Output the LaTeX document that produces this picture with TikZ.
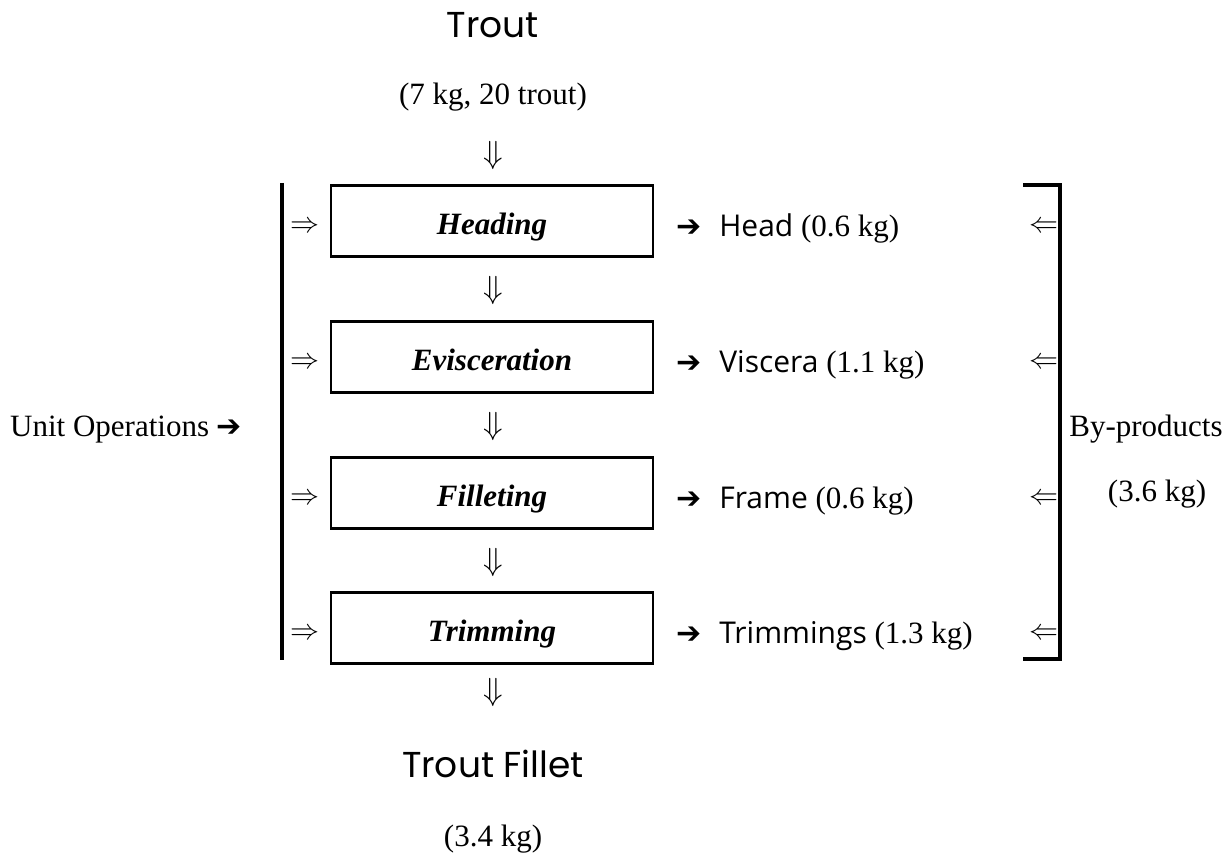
\RequirePackage{fix-cm}
\documentclass[tikz,border=0pt]{standalone}
\usepackage{fontspec}
\setmainfont{Liberation Serif}
\newfontfamily\titlefont{Poppins}
\newfontfamily\prodfont{Open Sans}
\newfontfamily\symfont{DejaVu Sans}
\newcommand{\blackarrow}{{\symfont\fontsize{30}{32}\selectfont ➔}}
\begin{document}
\begin{tikzpicture}[x=1pt,y=-1pt,
  opbox/.style={draw,line width=2.5pt,minimum width=322pt,minimum height=71pt,inner sep=0pt,
    text height=27pt,text depth=0pt,font=\fontsize{31}{34}\selectfont\bfseries\itshape},
  lbl/.style={inner sep=0pt,anchor=base},
  body/.style={font=\fontsize{31}{34}\selectfont},
  ttl/.style={font=\titlefont\fontsize{36}{40}\selectfont},
  dbl/.style={inner sep=0pt,anchor=center,font=\fontsize{32}{34}\selectfont},
  side/.style={inner sep=0pt,anchor=center,font=\fontsize{29}{31}\selectfont},
  prod/.style={inner sep=0pt,anchor=base west,font=\fontsize{31}{34}\selectfont},
  heavy/.style={line width=3.2pt}]
\useasboundingbox (0,0) rectangle (1224,856);
\node[lbl,ttl] (trout) at (493,38) {Trout};
\node[lbl,body] (in) at (493,105) {(7 kg, 20 trout)};
\node[dbl] (d0) at (493,156) {$\Downarrow$};
\node[opbox] (b1) at (492,221) {Heading};
\node[opbox] (b2) at (492,357) {Evisceration};
\node[opbox] (b3) at (492,493) {Filleting};
\node[opbox] (b4) at (492,628) {Trimming};
\node[dbl] (d1) at (493,290) {$\Downarrow$};
\node[dbl] (d2) at (493,426) {$\Downarrow$};
\node[dbl] (d3) at (493,562) {$\Downarrow$};
\node[dbl] (d4) at (493,692) {$\Downarrow$};
\node[lbl,ttl] (fillet) at (493,777) {Trout Fillet};
\node[lbl,body] (out) at (493,846) {(3.4 kg)};
\coordinate (lt) at (282,183);
\coordinate (lb) at (282,660);
\draw[heavy] (lt) -- (lb);
\foreach \i/\y in {1/227,2/363,3/499,4/634}{
  \node[side,anchor=west] (r\i) at (290,\y) {$\Rightarrow$};
  \node[side,anchor=east] (l\i) at (1059,\y) {$\Leftarrow$};
}
\coordinate (rt0) at (1023,185);
\coordinate (rt) at (1060,185);
\coordinate (rb) at (1060,659);
\coordinate (rb0) at (1023,659);
\draw[heavy] (rt0) -- (rt) -- (rb) -- (rb0);
\node[prod] (p1) at (676,236) {\blackarrow\hspace{18pt}{\prodfont\fontsize{30}{32}\selectfont Head} (0.6 kg)};
\node[prod] (p2) at (676,372) {\blackarrow\hspace{18pt}{\prodfont\fontsize{30}{32}\selectfont Viscera} (1.1 kg)};
\node[prod] (p3) at (676,508) {\blackarrow\hspace{18pt}{\prodfont\fontsize{30}{32}\selectfont Frame} (0.6 kg)};
\node[prod] (p4) at (676,643) {\blackarrow\hspace{18pt}{\prodfont\fontsize{30}{32}\selectfont Trimmings} (1.3 kg)};
\node[prod] (uo) at (10,436) {Unit Operations \blackarrow};
\node[lbl,body] (bp) at (1146,436) {By-products};
\node[lbl,body] (bpw) at (1157,501) {(3.6 kg)};
\end{tikzpicture}
\end{document}
